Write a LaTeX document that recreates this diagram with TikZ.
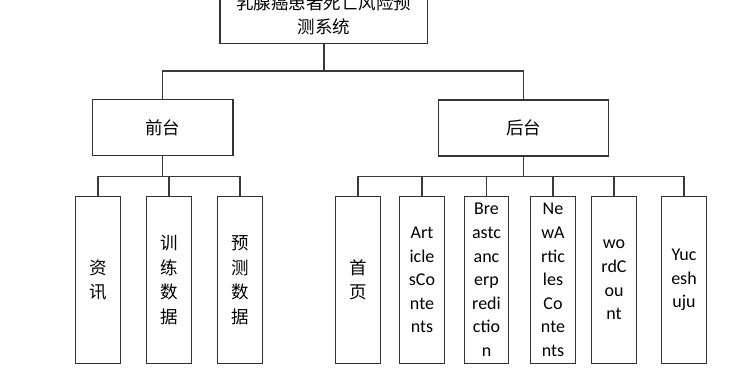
\documentclass[tikz,border=0pt]{standalone}
\usepackage{fontspec}
\setmainfont{Carlito}
\newfontfamily\cjk{Noto Sans CJK SC}
\usepackage{xcolor}
\definecolor{edge}{HTML}{333333}
\definecolor{wire}{HTML}{3A3A3A}

\begin{document}
\begin{tikzpicture}[x=1pt, y=-1pt,
  every node/.style={font=\fontsize{17.5}{24.5}\selectfont\cjk},
  box/.style={draw=edge, line width=1.4pt, fill=white, align=center, inner sep=0pt},
  leaf/.style={box, minimum width=44.5pt, minimum height=167pt},
  tree/.style={draw=wire, line width=1.3pt}]
  \useasboundingbox (0,0) rectangle (746,384);
  \node[box, minimum width=207.7pt, minimum height=57.7pt] (sys) at (323.9,14.9) {乳腺癌患者死亡风险预\\测系统};
  \node[box, minimum width=140.7pt, minimum height=56pt] (ft) at (162.7,127.3) {前台};
  \node[box, minimum width=170pt, minimum height=56pt] (bt) at (523.7,128) {后台};
  \coordinate (bar0) at (0,71);
  \coordinate (bar1) at (0,176.5);
  \foreach \x/\name/\txt in {98/zx/{资\\讯},169/xl/{训\\练\\数\\据},240/yc/{预\\测\\数\\据},358/sy/{首\\页}} {
    \node[leaf] (\name) at (\x,280) {\txt};
  }
  \foreach \x/\name/\txt in {422/ac/{Art\\icle\\sCo\\nte\\nts},486.5/bp/{Bre\\astc\\anc\\erp\\redi\\ctio\\n},553/nac/{Ne\\wA\\rtic\\les\\Co\\nte\\nts},614/wc/{wo\\rdC\\ou\\nt},684/ycsj/{Yuc\\esh\\uju}} {
    \node[leaf, font=\fontsize{18}{23.6}\selectfont\rmfamily] (\name) at (\x,280) {\txt};
  }
  \draw[tree] (sys.south) -- (sys.south |- bar0) -| (ft.north);
  \draw[tree] (sys.south |- bar0) -| (bt.north);
  \foreach \n in {zx,xl,yc} {
    \draw[tree] (ft.south) -- (ft.south |- bar1) -| (\n.north);
  }
  \foreach \n in {sy,ac,bp,nac,wc,ycsj} {
    \draw[tree] (bt.south) -- (bt.south |- bar1) -| (\n.north);
  }
\end{tikzpicture}
\end{document}
